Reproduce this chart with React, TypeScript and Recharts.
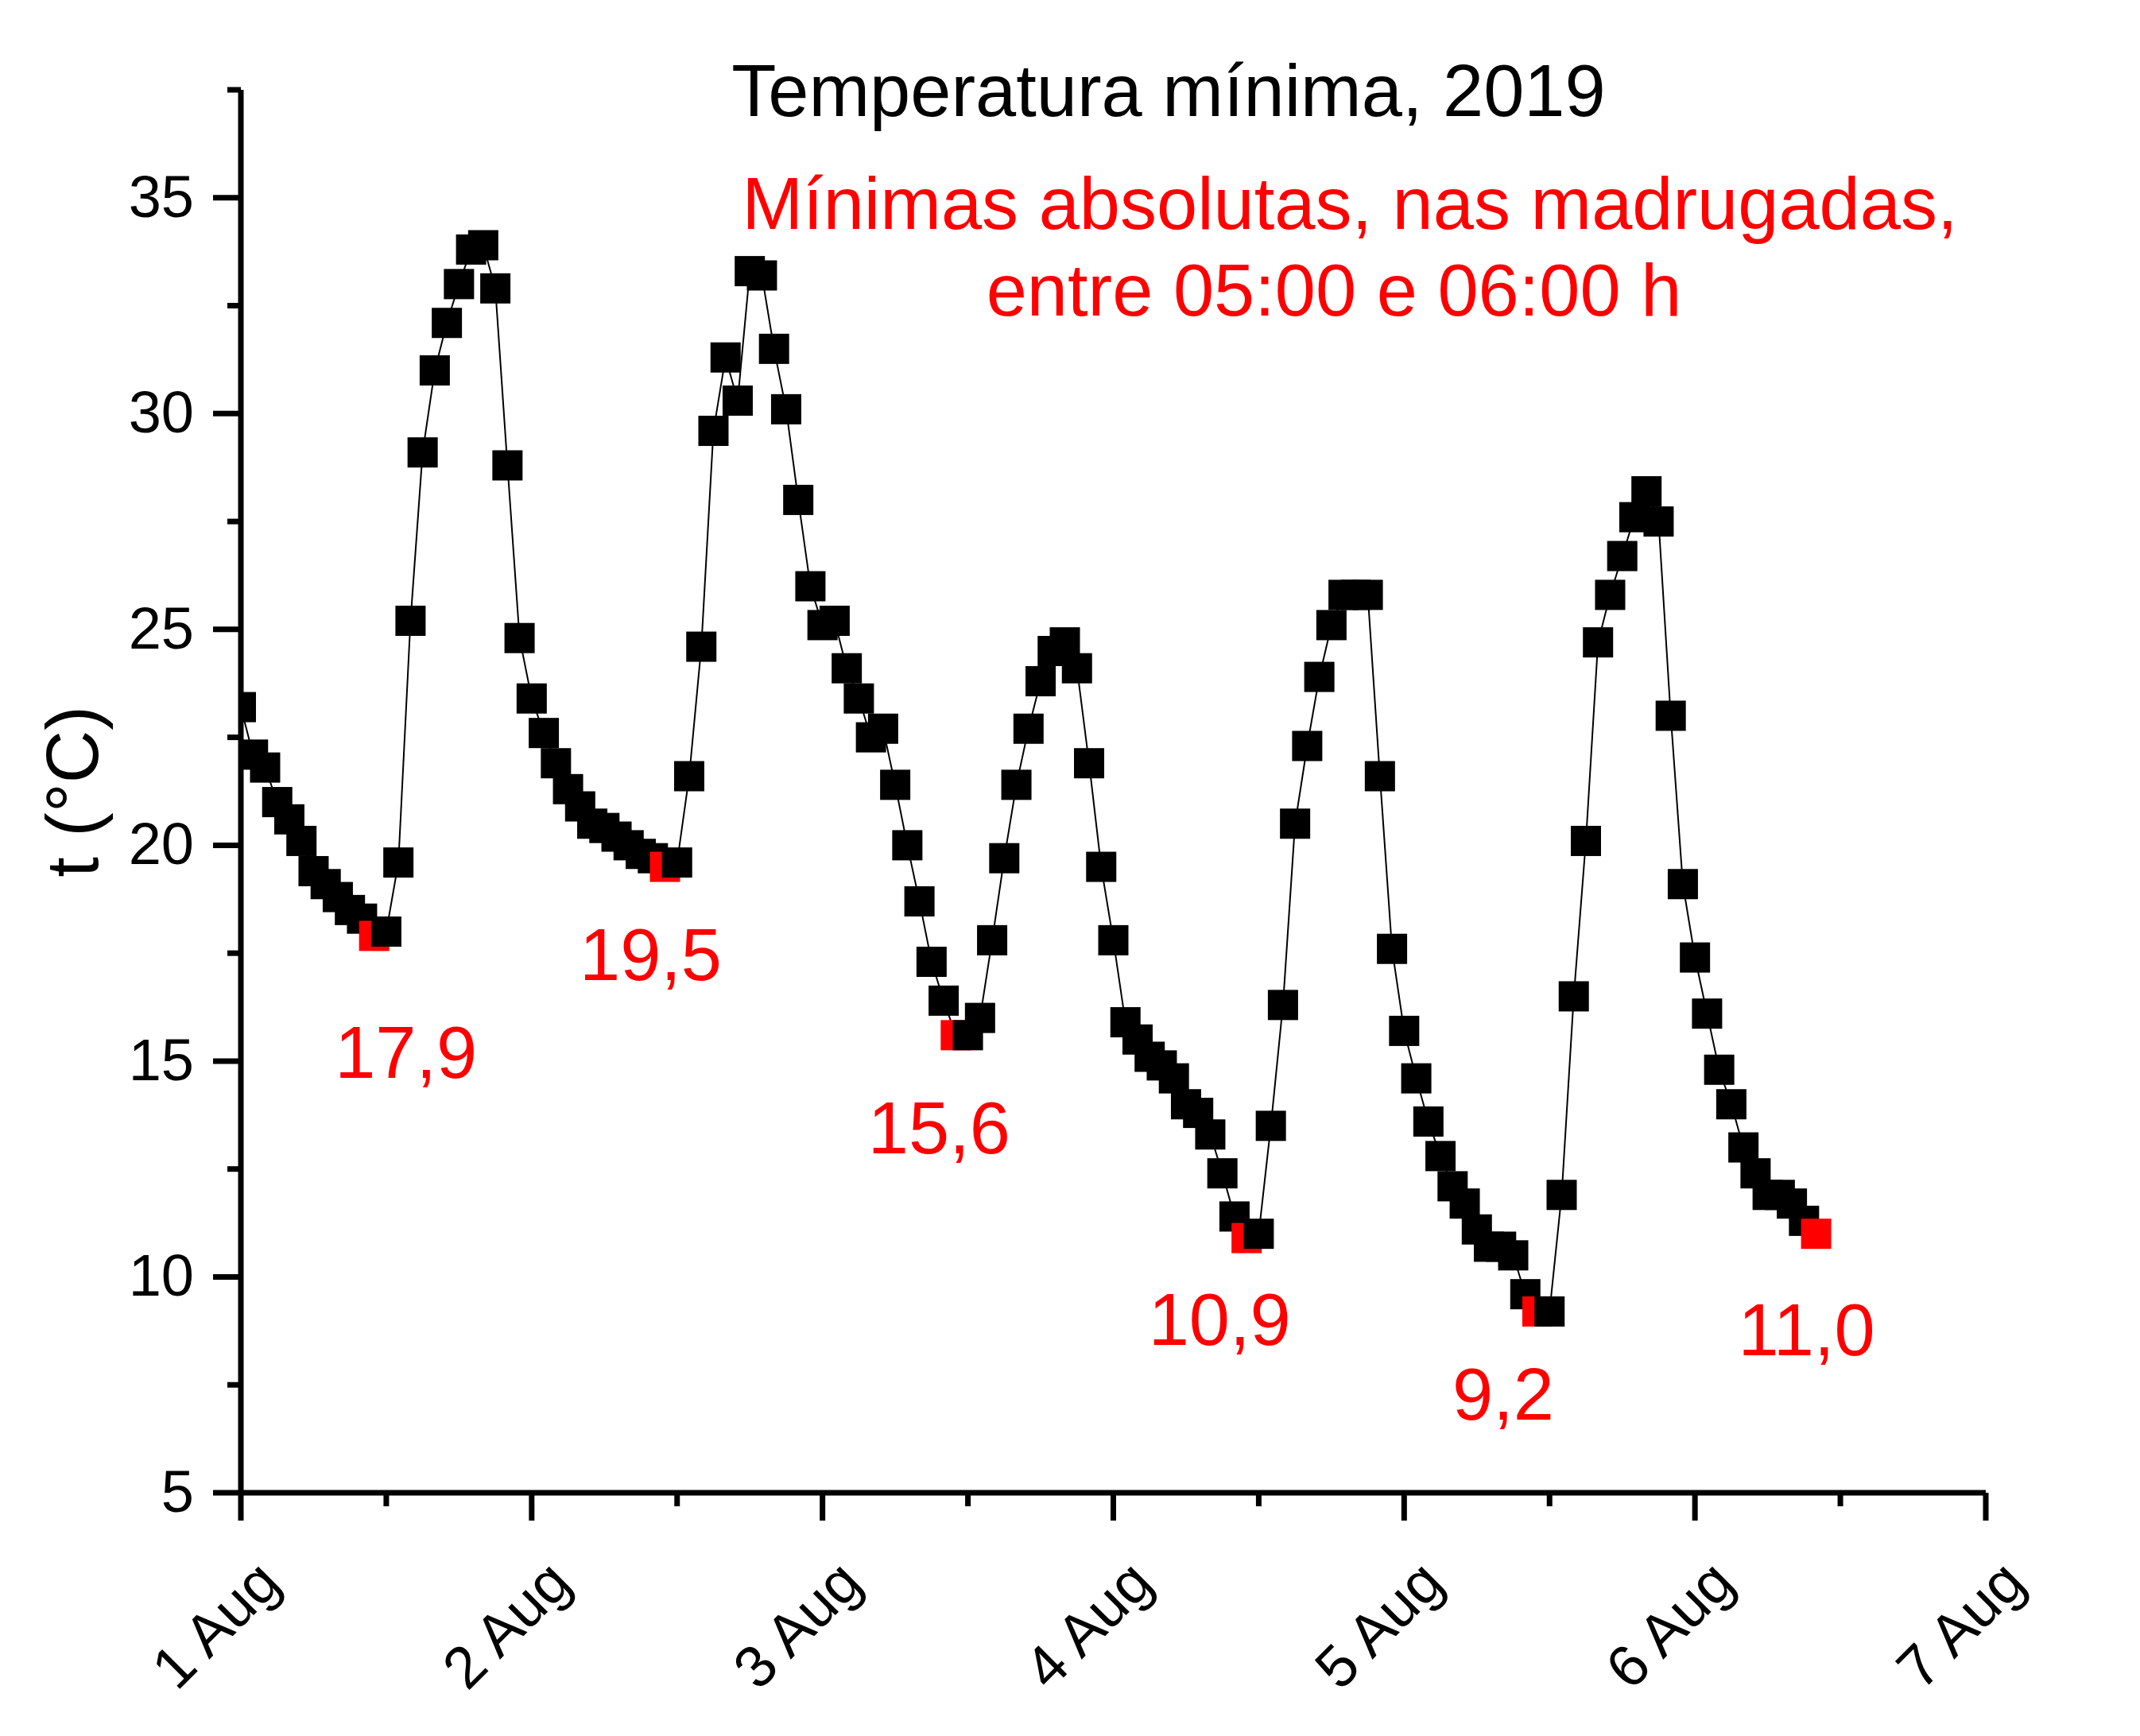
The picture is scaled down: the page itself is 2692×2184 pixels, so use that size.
import React from 'react'
import { LineChart, Line, XAxis, YAxis, LabelList } from 'recharts'

// hourly readings, first point at 1 Aug 00:00 on the axis
const TEMPS = [
  23.2, 22.1, 21.8, 21.0, 20.6, 20.1, 19.4, 19.1, 18.8, 18.5, 18.3, 17.9,
  18.0, 19.6, 25.2, 29.1, 31.0, 32.1, 33.0, 33.8, 33.9, 32.9, 28.8, 24.8,
  23.4, 22.6, 21.9, 21.3, 20.9, 20.5, 20.4, 20.2, 20.0, 19.8, 19.7, 19.5,
  19.6, 21.6, 24.6, 29.6, 31.3, 30.3, 33.3, 33.2, 31.5, 30.1, 28.0, 26.0,
  25.1, 25.2, 24.1, 23.4, 22.5, 22.7, 21.4, 20.0, 18.7, 17.3, 16.4, 15.6,
  15.6, 16.0, 17.8, 19.7, 21.4, 22.7, 23.8, 24.5, 24.7, 24.1, 21.9, 19.5,
  17.8, 15.9, 15.5, 15.1, 14.9, 14.6, 14.0, 13.8, 13.3, 12.4, 11.4, 10.9,
  11.0, 13.5, 16.3, 20.5, 22.3, 23.9, 25.1, 25.8, 25.8, 25.8, 21.6, 17.6,
  15.7, 14.6, 13.6, 12.8, 12.1, 11.7, 11.1, 10.7, 10.7, 10.5, 9.6, 9.2,
  9.2, 11.9, 16.5, 20.1, 24.7, 25.8, 26.7, 27.6, 28.2, 27.5, 23.0, 19.1,
  17.4, 16.1, 14.8, 14.0, 13.0, 12.4, 11.9, 11.9, 11.7, 11.3, 11.0,
]

// hours (index) of the daily absolute minima
const MIN_HOURS = [11, 35, 59, 83, 107, 130]

const X_TICKS = [0, 12, 24, 36, 48, 60, 72, 84, 96, 108, 120, 132, 144]
const Y_TICKS = [5, 7.5, 10, 12.5, 15, 17.5, 20, 22.5, 25, 27.5, 30, 32.5, 35, 37.5]

const TITLE = 'Temperatura mínima, 2019'
const NOTE_1 = 'Mínimas absolutas, nas madrugadas,'
const NOTE_2 = 'entre 05:00 e 06:00 h'

const data = TEMPS.map((t, i) => ({ hour: i, temp: t }))

// where each minimum label sits relative to its point (layout only)
const LABEL_OFFSETS: [number, number][] = [
  [40, 179], [-18, 142], [-21, 149], [-34, 134], [-43, 136], [-12, 153],
]

const FONT = '"Liberation Sans", Arial, sans-serif'
const RED = '#FF0000'

function XTick({ x, y, payload }: any) {
  const major = payload.value % 24 === 0
  const ax = x + 53
  const ay = y + 117
  return (
    <g>
      <line x1={x} x2={x} y1={y} y2={y + (major ? 35 : 17)} stroke="#000" strokeWidth={7} />
      {major && (
        <text x={ax} y={ay} transform={`rotate(-45 ${ax} ${ay})`} textAnchor="end"
          fontFamily={FONT} fontSize={74} fill="#000">
          {`${payload.value / 24 + 1} Aug`}
        </text>
      )}
    </g>
  )
}

function YTick({ x, y, payload }: any) {
  const major = payload.value % 5 === 0
  return (
    <g>
      <line x1={x - (major ? 35 : 17)} x2={x} y1={y} y2={y} stroke="#000" strokeWidth={7} />
      {major && (
        <text x={x - 59} y={y + 24} textAnchor="end" fontFamily={FONT} fontSize={74} fill="#000">
          {payload.value}
        </text>
      )}
    </g>
  )
}

function Square({ cx, cy, payload, index }: any) {
  if (cx == null || cy == null) return <g key={index} />
  const isMin = MIN_HOURS.includes(payload.hour)
  return <rect key={index} x={cx - 19} y={cy - 19} width={38} height={38} fill={isMin ? RED : '#000'} />
}

function MinLabel({ x, y, value, index }: any) {
  const k = MIN_HOURS.indexOf(index)
  if (k < 0 || x == null) return null
  const [dx, dy] = LABEL_OFFSETS[k]
  return (
    <text x={x + dx} y={y + dy} textAnchor="middle" fontFamily={FONT} fontSize={92} fill={RED}>
      {Number(value).toFixed(1).replace('.', ',')}
    </text>
  )
}

export default function App() {
  return (
    <div style={{ position: 'absolute', left: 0, top: 0, width: 2692, height: 2184, background: '#fff' }}>
      <LineChart width={2692} height={2184} data={data}
        margin={{ top: 113, right: 194, bottom: 56, left: 103 }}>
        <XAxis type="number" dataKey="hour" domain={[0, 144]} ticks={X_TICKS} interval={0}
          height={250} tickSize={0} tickMargin={0} tickLine={false}
          axisLine={{ stroke: '#000', strokeWidth: 7 }} tick={<XTick />} allowDataOverflow />
        <YAxis type="number" domain={[5, 37.5]} ticks={Y_TICKS} interval={0}
          width={200} tickSize={0} tickMargin={0} tickLine={false}
          axisLine={{ stroke: '#000', strokeWidth: 7 }} tick={<YTick />} allowDataOverflow />
        <Line type="linear" dataKey="temp" stroke="#000" strokeWidth={2}
          dot={(p: any) => <Square {...p} key={p.index} />} activeDot={false} isAnimationActive={false}>
          <LabelList dataKey="temp" content={<MinLabel />} />
        </Line>
      </LineChart>
      <svg width={2692} height={2184} style={{ position: 'absolute', left: 0, top: 0, pointerEvents: 'none' }}>
        <text x={1470} y={146} textAnchor="middle" fontFamily={FONT} fontSize={92} fill="#000">{TITLE}</text>
        <text x={1698} y={288} textAnchor="middle" fontFamily={FONT} fontSize={92} fill={RED}>{NOTE_1}</text>
        <text x={1678} y={397} textAnchor="middle" fontFamily={FONT} fontSize={92} fill={RED}>{NOTE_2}</text>
        <text transform="translate(123,996) rotate(-90)" textAnchor="middle" fontFamily={FONT} fontSize={92} fill="#000">
          t (°C)
        </text>
      </svg>
    </div>
  )
}
